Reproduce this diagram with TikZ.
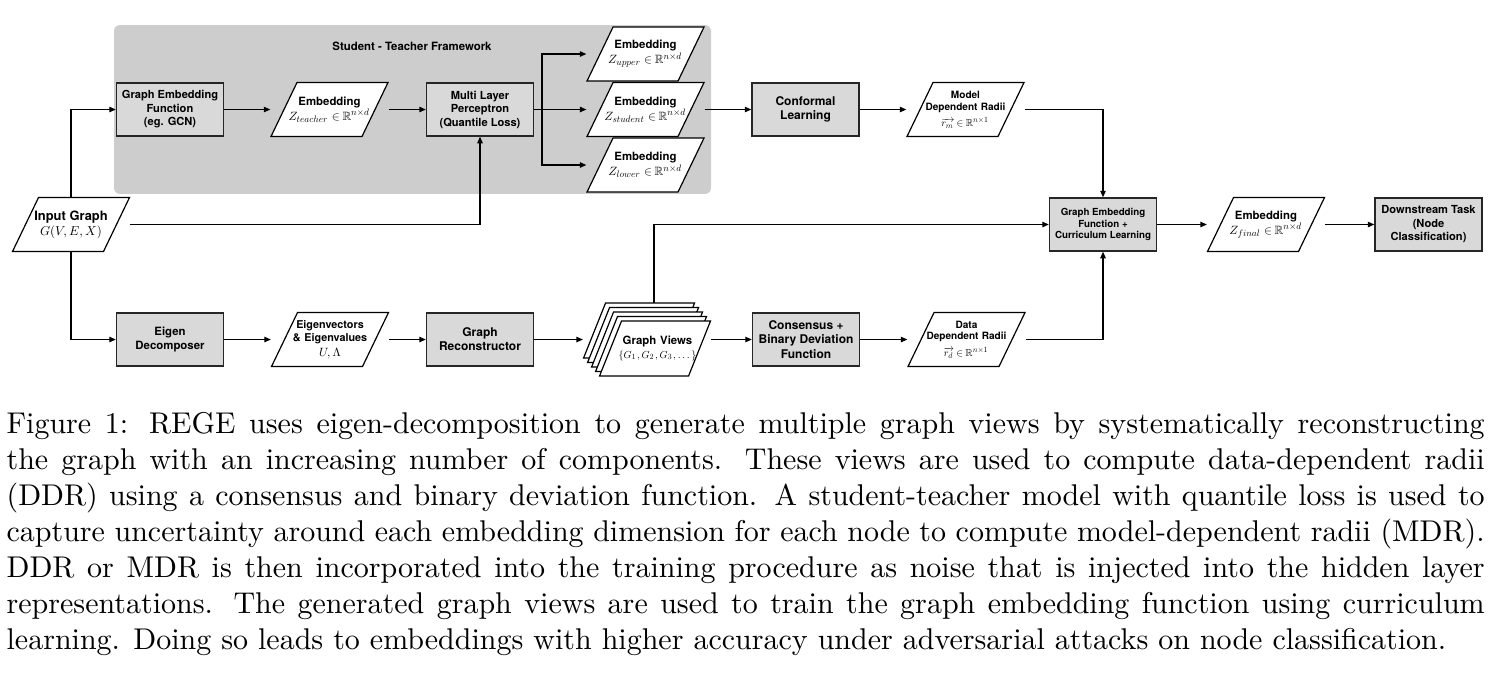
\documentclass[tikz,border=0pt]{standalone}
\usepackage{amsmath}
\usepackage{amssymb}
\usepackage{fontspec}
\setsansfont{TeX Gyre Heros}
\usepackage{tikz}
\usetikzlibrary{arrows.meta}
\DeclareFontShape{OML}{cmm}{m}{it}{<->cmmi10}{}
\DeclareFontShape{OMS}{cmsy}{m}{n}{<->cmsy10}{}
\DeclareFontShape{OT1}{cmr}{m}{n}{<->cmr10}{}
\DeclareFontFamily{U}{msb}{}
\DeclareFontShape{U}{msb}{m}{n}{<->msbm10}{}
\renewcommand{\defaultscriptratio}{.78}
\definecolor{framegray}{RGB}{205,205,205}
\definecolor{boxgray}{RGB}{217,217,217}
\newcommand{\lblfont}{\fontsize{3.8}{4.5}\selectfont\sffamily\bfseries}
\newcommand{\lblsmall}{\fontsize{3.35}{3.9}\selectfont\sffamily\bfseries}
\newcommand{\eqfont}{\fontsize{4}{4.6}\selectfont\thickmuskip=4mu}
\newcommand{\eqsmall}{\fontsize{3.4}{4}\selectfont\thickmuskip=4mu}
\tikzset{
proc/.style = { rectangle, draw = black!85, fill = boxgray, line width = 0.4pt, minimum width = 35.7pt, minimum height = 17.7pt, inner sep = 0pt, align = center, font = \lblfont },
datatext/.style = { draw = none, fill = none, text width = 39pt, minimum height = 18pt, inner sep = 0pt, align = center, font = \lblfont },
arr/.style = { draw = black, line width = 0.45pt, -{Triangle[length = 2.2pt, width = 1.8pt]} },
framebox/.style = { rectangle, fill = framegray, rounded corners = 2pt, minimum width = 199pt, minimum height = 56.3pt },
capt/.style = { anchor = base west, text width = 492.7pt, align = justify, inner sep = 0pt, font = \fontsize{10}{12}\selectfont\rmfamily },
}
\tikzset{
pics/data/.style args={#1, #2}{
        code = {
        \path[draw = black, line width = 0.4pt, fill = white] (-1.95, -0.9) -- (-1.083, 0.9) -- (1.95, 0.9) -- (1.083, -0.9) -- cycle;
        \node[datatext] (-in) at (0.0, 0.0) {#1\\[0.5pt]{\eqfont #2}};
        }
    },
pics/radii/.style args={#1, #2}{
        code = {
        \path[draw = black, line width = 0.4pt, fill = white] (-1.95, -0.9) -- (-1.083, 0.9) -- (1.95, 0.9) -- (1.083, -0.9) -- cycle;
        \node[datatext, font = \lblsmall] (-in) at (0.0, 0.0) {#1\\[1.6pt]{\eqsmall #2}};
        }
    },
pics/views/.style args={#1, #2}{
        code = {
        \foreach \k in {4, 3, 2, 1, 0}
            \path[draw = black, line width = 0.4pt, fill = white, shift = {(0.267 - 0.133*\k, -0.3 + 0.15*\k)}] (-1.85, -0.917) -- (-1.117, 0.917) -- (1.85, 0.917) -- (1.117, -0.917) -- cycle;
        \node[datatext] (-txt) at (0.35, -0.3) {#1\\{\eqsmall #2}};
        \node[draw = none, fill = none, minimum width = 42.3pt, minimum height = 24.3pt, inner sep = 0pt] (-in) at (0.0, 0.0) {};
        \coordinate (-top) at (0.233, 1.217);
        }
    }
}
\begin{document}
\begin{tikzpicture}[x = 10pt, y = 10pt]
    \useasboundingbox (0.0, 0.0) rectangle (50.033, -22.567);
    \node[framebox] (frame) at (13.75, -3.65) {};
    \node[font = \lblfont] (frametitle) at (13.733, -1.533) {Student - Teacher Framework};
    \node[proc, font = \fontsize{3.7}{4.5}\selectfont\sffamily\bfseries] (gef) at (5.667, -3.65) {Graph Embedding\\Function\\(eg. GCN)};
    \draw (10.983, -3.65) pic (teach) {data = {Embedding, $Z_{teacher} \in \mathbb{R}^{n\times d}$}};
    \node[proc, font = \fontsize{3.7}{4.5}\selectfont\sffamily\bfseries] (mlp) at (16.0, -3.65) {Multi Layer\\Perceptron\\(Quantile Loss)};
    \coordinate (split) at (18.067, -3.65);
    \draw (21.517, -1.8) pic (up) {data = {Embedding, $Z_{upper} \in \mathbb{R}^{n\times d}$}};
    \draw (21.517, -3.65) pic (stu) {data = {Embedding, $Z_{student} \in \mathbb{R}^{n\times d}$}};
    \draw (21.517, -5.5) pic (low) {data = {Embedding, $Z_{lower} \in \mathbb{R}^{n\times d}$}};
    \node[proc, font = \fontsize{4}{4.7}\selectfont\sffamily\bfseries] (conf) at (26.85, -3.65) {Conformal\\Learning};
    \draw (32.183, -3.65) pic (mdr) {radii = {Model\\Dependent Radii, $\overrightarrow{r_m} \in \mathbb{R}^{n\times 1}$}};
    \draw (2.367, -7.483) pic (inp) {data = {\fontsize{4.3}{5}\selectfont Input Graph, \fontsize{4.3}{5}\selectfont $G(V, E, X)$}};
    \node[proc, font = \fontsize{3.25}{3.9}\selectfont\sffamily\bfseries] (gcl) at (36.767, -7.483) {Graph Embedding\\Function +\\Curriculum Learning};
    \draw (42.2, -7.483) pic (fin) {data = {Embedding, $Z_{final} \in \mathbb{R}^{n\times d}$}};
    \node[proc, font = \fontsize{3.7}{4.5}\selectfont\sffamily\bfseries] (down) at (47.617, -7.483) {Downstream Task\\(Node\\Classification)};
    \node[proc] (eig) at (5.667, -11.317) {Eigen\\Decomposer};
    \draw (11.0, -11.317) pic (eigv) {data = {\fontsize{3.6}{4.3}\selectfont Eigenvectors\\\& Eigenvalues, $U, \Lambda$}};
    \node[proc, font = \fontsize{4}{4.7}\selectfont\sffamily\bfseries] (rec) at (16.0, -11.317) {Graph\\Reconstructor};
    \draw (21.567, -11.317) pic (gv) {views = {Graph Views, $\{G_1, G_2, G_3, \dots\}$}};
    \node[proc, font = \fontsize{4}{4.7}\selectfont\sffamily\bfseries] (cons) at (26.867, -11.317) {Consensus +\\Binary Deviation\\Function};
    \draw (32.217, -11.317) pic (ddr) {radii = {Data\\Dependent Radii, $\overrightarrow{r_d} \in \mathbb{R}^{n\times 1}$}};
    \draw[arr] (inp-in.north) |- (gef.west);
    \draw[arr] (inp-in.south) |- (eig.west);
    \draw[arr] (inp-in.east) -| (mlp.south);
    \draw[arr] (gef) -- (teach-in);
    \draw[arr] (teach-in) -- (mlp);
    \draw (mlp.east) -- (split);
    \draw[arr] (split) |- (up-in.west);
    \draw[arr] (split) -- (stu-in.west);
    \draw[arr] (split) |- (low-in.west);
    \draw[arr] (stu-in) -- (conf);
    \draw[arr] (conf) -- (mdr-in);
    \draw[arr] (mdr-in.east) -| (gcl.north);
    \draw[arr] (eig) -- (eigv-in);
    \draw[arr] (eigv-in) -- (rec);
    \draw[arr] (rec) -- (gv-in);
    \draw[arr] (gv-in) -- (cons);
    \draw[arr] (cons) -- (ddr-in);
    \draw[arr] (ddr-in.east) -| (gcl.south);
    \draw[arr] (gv-top) |- (gcl.west);
    \draw[arr] (gcl) -- (fin-in);
    \draw[arr] (fin-in) -- (down);
    \node[capt] (cap) at (0.2, -14.433) {\noindent Figure 1: REGE uses eigen-decomposition to generate multiple graph views by systematically reconstructing\linebreak
    the graph with an increasing number of components. These views are used to compute data-dependent radii\linebreak
    (DDR) using a consensus and binary deviation function. A student-teacher model with quantile loss is used to\linebreak
    capture uncertainty around each embedding dimension for each node to compute model-dependent radii (MDR).\linebreak
    DDR or MDR is then incorporated into the training procedure as noise that is injected into the hidden layer\linebreak
    representations. The generated graph views are used to train the graph embedding function using curriculum\linebreak
    learning. Doing so leads to embeddings with higher accuracy under adversarial attacks on node classification.};
\end{tikzpicture}
\end{document}
